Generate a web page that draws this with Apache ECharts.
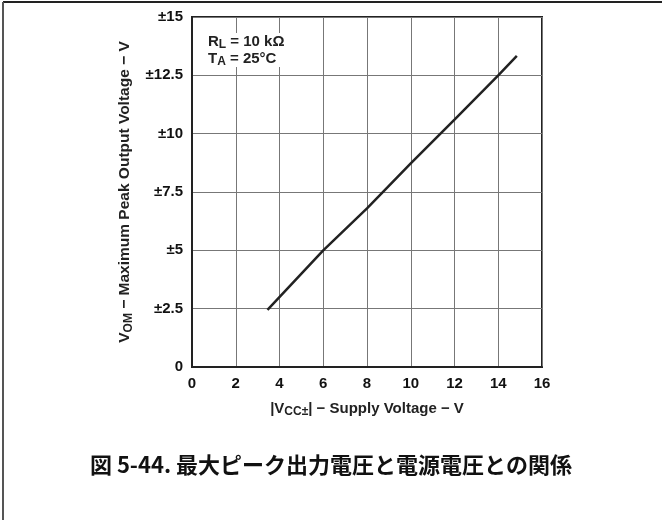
<!DOCTYPE html>
<html>
<head>
<meta charset="utf-8">
<script src="https://cdn.jsdelivr.net/npm/echarts@6/dist/echarts.min.js"></script>
<style>
  html, body { margin: 0; padding: 0; background: #fff; }
  #chart { width: 662px; height: 520px; }
</style>
</head>
<body>
<div id="chart"></div>
<script>
// supply voltage |Vcc±| (V) vs max peak output voltage (±V)
const supplyVoltage = [3.45, 6, 8, 10, 12, 14, 14.85];
const peakOutput = [2.45, 5.0, 6.8, 8.73, 10.6, 12.5, 13.33];
const xTicks = [0, 2, 4, 6, 8, 10, 12, 14, 16];
const yTicks = [0, 2.5, 5, 7.5, 10, 12.5, 15];

const font = 'Liberation Sans, Arial, sans-serif';
const subStyle = { fontFamily: font, fontWeight: 'bold', fontSize: 12, color: '#222', padding: [7, 0, 0, 0] };
const chart = echarts.init(document.getElementById('chart'));

chart.setOption({
  animation: false,
  grid: {
    left: 192, top: 17, right: 120, bottom: 153,
    show: true, borderColor: '#222', borderWidth: 2
  },
  xAxis: {
    type: 'value',
    min: xTicks[0], max: xTicks[xTicks.length - 1], interval: 2,
    axisLine: { lineStyle: { color: '#222', width: 2 } },
    axisTick: { show: false },
    splitLine: { lineStyle: { color: '#777', width: 1 } },
    axisLabel: { color: '#111', fontFamily: font, fontWeight: 'bold', fontSize: 15, margin: 9 },
    name: '|V{sub|CC±}| − Supply Voltage − V',
    nameLocation: 'middle',
    nameGap: 32,
    nameTextStyle: {
      color: '#222', fontFamily: font, fontWeight: 'bold', fontSize: 15,
      rich: { sub: subStyle }
    }
  },
  yAxis: {
    type: 'value',
    min: yTicks[0], max: yTicks[yTicks.length - 1], interval: 2.5,
    axisLine: { lineStyle: { color: '#222', width: 2 } },
    axisTick: { show: false },
    splitLine: { lineStyle: { color: '#777', width: 1 } },
    axisLabel: {
      color: '#111', fontFamily: font, fontWeight: 'bold', fontSize: 15, margin: 9,
      formatter: v => (v === 0 ? '0' : '±' + v)
    },
    name: 'V{sub|OM} − Maximum Peak Output Voltage − V',
    nameLocation: 'middle',
    nameRotate: 90,
    nameGap: 45,
    nameTextStyle: {
      color: '#222', fontFamily: font, fontWeight: 'bold', fontSize: 15.5,
      rich: { sub: subStyle }
    }
  },
  series: [{
    type: 'line',
    data: supplyVoltage.map((x, i) => [x, peakOutput[i]]),
    showSymbol: false,
    lineStyle: { color: '#222', width: 2.5 }
  }],
  graphic: [
    { type: 'line', shape: { x1: 3, y1: 2, x2: 662, y2: 2 }, style: { stroke: '#222', lineWidth: 2 } },
    { type: 'line', shape: { x1: 3, y1: 2, x2: 3, y2: 520 }, style: { stroke: '#555', lineWidth: 2 } },
    {
      type: 'text', left: 206, top: 33, z: 10,
      style: {
        text: 'R{sub|L} = 10 kΩ\nT{sub|A} = 25°C',
        fill: '#222', font: 'bold 15px ' + font, lineHeight: 17,
        backgroundColor: '#fff', padding: [0, 2, 0, 2],
        rich: { sub: { font: 'bold 12px ' + font, fill: '#222', padding: [7, 0, 0, 0] } }
      }
    },
    {
      type: 'text', left: 'center', top: 454,
      style: {
        text: '図 5-44. 最大ピーク出力電圧と電源電圧との関係',
        fill: '#111', font: 'bold 22px "Noto Sans CJK JP", sans-serif'
      }
    }
  ]
});
</script>
</body>
</html>
